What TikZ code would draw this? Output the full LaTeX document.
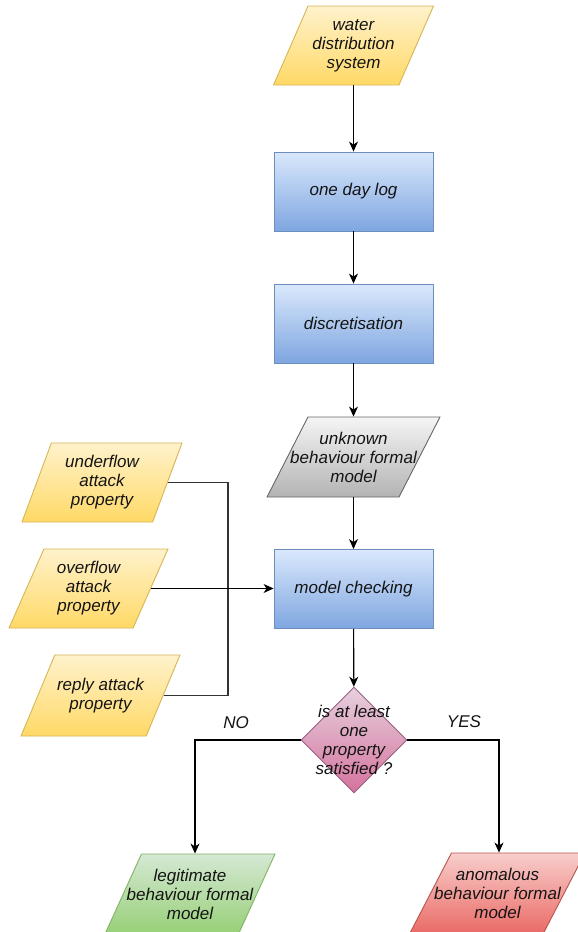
\documentclass[tikz,border=0pt]{standalone}
\usepackage{fontspec}
\setmainfont{Liberation Sans}
\usetikzlibrary{shapes.geometric,arrows.meta,calc}

\definecolor{txtc}{HTML}{141414}
\definecolor{ylwA}{HTML}{FFF2CC}\definecolor{ylwB}{HTML}{FFD966}\definecolor{ylwS}{HTML}{D6B656}
\definecolor{bluA}{HTML}{DAE8FC}\definecolor{bluB}{HTML}{7EA6E0}\definecolor{bluS}{HTML}{6C8EBF}
\definecolor{gryA}{HTML}{F5F5F5}\definecolor{gryB}{HTML}{B3B3B3}\definecolor{gryS}{HTML}{666666}
\definecolor{pnkA}{HTML}{E6D0DE}\definecolor{pnkB}{HTML}{D5739D}\definecolor{pnkS}{HTML}{996185}
\definecolor{grnA}{HTML}{D5E8D4}\definecolor{grnB}{HTML}{97D077}\definecolor{grnS}{HTML}{82B366}
\definecolor{redA}{HTML}{F8CECC}\definecolor{redB}{HTML}{EA6B66}\definecolor{redS}{HTML}{B85450}

\tikzset{
  txt/.style={font=\fontsize{17}{19}\selectfont\itshape, text=txtc, align=center, inner sep=0pt},
  para/.style={trapezium, trapezium left angle=#1, trapezium right angle=180-#1,
    trapezium stretches=true, inner sep=2pt, minimum height=79pt, line width=0.9pt},
  procbox/.style={rectangle, minimum width=159pt, minimum height=79pt, inner sep=0pt,
    top color=bluA, bottom color=bluB, draw=bluS, line width=0.9pt, txt},
  yellowfill/.style={top color=ylwA, bottom color=ylwB, draw=ylwS},
  grayfill/.style={top color=gryA, bottom color=gryB, draw=gryS},
  greenfill/.style={top color=grnA, bottom color=grnB, draw=grnS},
  redfill/.style={top color=redA, bottom color=redB, draw=redS},
  decision/.style={diamond, minimum width=106pt, minimum height=106pt, inner sep=2pt,
    top color=pnkA, bottom color=pnkB, draw=pnkS, line width=0.9pt},
  arr/.style={line width=1.1pt, draw=black, -{Stealth[length=10pt,width=9pt,inset=3pt]}},
  feed/.style={line width=1.1pt, draw=black!80},
  branch/.style={txt}
}

\begin{document}
\begin{tikzpicture}[x=1pt,y=-1pt]
\path[use as bounding box] (0,0) rectangle (578,932);
\clip (0,0) rectangle (578,932);
\fill[white] (0,0) rectangle (578,932);

% main chain
\node[para=69.2, yellowfill, minimum width=160pt,
  label={[txt]center:{water\\distribution\\system}}] (water) at (353.5,45.5) {};
\node[procbox] (log) at (353.5,191.5) {one day log};
\node[procbox] (disc) at (353.5,323.5) {discretisation};
\node[para=65.8, grayfill, minimum width=173pt, minimum height=80pt,
  label={[txt]center:{unknown\\behaviour formal\\model}}] (unknown) at (353.5,457) {};
\node[procbox] (check) at (353.5,589) {model checking};
\node[decision,
  label={[txt]center:{is at least\\one\\property\\satisfied ?}}] (dec) at (354,740) {};

% attack properties
\node[para=73.8, yellowfill, minimum width=160pt,
  label={[txt]center:{underflow\\attack\\property}}] (under) at (102,482.5) {};
\node[para=68.6, yellowfill, minimum width=159pt,
  label={[txt]center:{overflow\\attack\\property}}] (over) at (88.5,588.5) {};
\node[para=69.7, yellowfill, minimum width=159pt, minimum height=81pt,
  label={[txt]center:{reply attack\\property}}] (reply) at (100.5,695.5) {};
\coordinate (join) at (228,589);

% outcomes
\node[para=69.4, greenfill, minimum width=170pt, minimum height=80pt,
  label={[txt]center:{legitimate\\behaviour formal\\model}}] (legit) at (190,894) {};
\node[para=65.8, redfill, minimum width=175pt, minimum height=80pt,
  label={[txt]center:{anomalous\\behaviour formal\\model}}] (anom) at (497.5,893) {};

% connectors
\draw[arr] (water.south) -- (water.south |- log.north);
\draw[arr] (log) -- (disc);
\draw[arr] (disc) -- (disc |- unknown.north);
\draw[arr] (unknown.south) -- (unknown.south |- check.north);
\draw[arr] (check) -- (dec);
\draw[feed] (under) -| (join);
\draw[feed] (reply) -| (join);
\draw[arr] (over) -- (check.west |- over);
\draw[arr] (dec.west) -| ([xshift=5pt]legit.north);
\draw[arr] (dec.east) -| ([xshift=1.5pt]anom.north);

\node[branch] (no) at (236,723) {NO};
\node[branch] (yes) at (464,722) {YES};
\end{tikzpicture}
\end{document}
